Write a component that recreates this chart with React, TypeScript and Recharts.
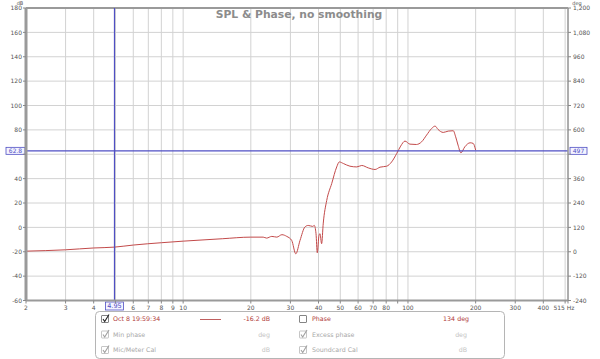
import React from 'react';
import { LineChart, Line, XAxis, YAxis, CartesianGrid, ReferenceLine } from 'recharts';

const freqHz = [2, 3, 4, 4.95, 6, 8, 10, 15, 20, 22.7, 23.5, 24.8, 26.1, 27.5, 28.9, 30.4, 31.7, 33.1, 34.8, 36.0, 37.7, 38.3, 39.0, 39.5, 40.2, 40.6, 41.3, 42.0, 43.5, 45.8, 48.2, 49.5, 51.6, 55.2, 59.2, 62.3, 66.6, 71.4, 75.1, 80.4, 84.6, 89.1, 92.8, 97.0, 102, 109, 115, 121, 127.5, 132, 136, 143.5, 151, 159, 163, 167, 172, 179, 189, 195, 200];
const splDb = [-19.5, -18.4, -16.9, -16.2, -14.5, -12.6, -11.3, -9.3, -8.0, -8.0, -8.8, -7.4, -8.0, -6.0, -7.4, -10.7, -21.7, -10.7, 0.3, 1.6, 0.8, 1.6, -5.2, -20.8, -6.6, -5.2, -13.4, 3.5, 22, 36, 49.6, 53.7, 52.4, 50.2, 49.6, 50.8, 48.8, 47.5, 49.4, 50.2, 53.7, 60.6, 66.7, 70.8, 68.3, 68.0, 70.2, 75.7, 81.2, 83.1, 80.4, 77.9, 79.0, 79.3, 74.3, 67.5, 61.2, 66.1, 69.4, 68.9, 63.4];

const xTicks = [2, 3, 4, 5, 6, 7, 8, 9, 10, 20, 30, 40, 50, 60, 70, 80, 90, 100, 200, 300, 400, 500, 515];
const hiddenXTickLabels = [5, 90, 500];
const leftTicks = [-60, -40, -20, 0, 20, 40, 60, 80, 100, 120, 140, 160, 180];
const hiddenLeftTickLabels = [60];
const rightTicks = [-240, -120, 0, 120, 240, 360, 480, 600, 720, 840, 960, 1080, 1200];
const hiddenRightTickLabels = [480];

const cursorFreq = 4.95;
const cursorLevel = 62.8;
const cursorPhase = '497';

const chartTitle = 'SPL & Phase, no smoothing';
const legendRows = [
  { left: 'Oct 8 19:59:34', leftVal: '-16.2 dB', right: 'Phase', rightVal: '134 deg', active: true },
  { left: 'Min phase', leftVal: 'deg', right: 'Excess phase', rightVal: 'deg', active: false },
  { left: 'Mic/Meter Cal', leftVal: 'dB', right: 'Soundcard Cal', rightVal: 'dB', active: false },
];

const data = freqHz.map((f, i) => ({ f, spl: splDb[i] }));

const FONT = 'DejaVu Sans';
const BLUE = '#4f4fc4';
const RED = '#b03a3a';

const XTick = (props: any) => {
  const { x, y, payload } = props;
  const v = payload.value;
  if (hiddenXTickLabels.includes(v)) return <g />;
  const label = v === 515 ? '515 Hz' : String(v);
  return (
    <text x={v === 515 ? x - 4 : x} y={y + 4.5} textAnchor="middle" fontSize={6} fill="#555" fontFamily={FONT}>
      {label}
    </text>
  );
};

const HCursorLabel = (props: any) => {
  const vb = props.viewBox || {};
  const x = vb.x ?? 0;
  const y = vb.y ?? 0;
  const w = vb.width ?? 0;
  return (
    <g>
      <rect x={x - 20} y={y - 3.5} width={19} height={7} fill="#f4f4ff" stroke={BLUE} strokeWidth={0.8} />
      <text x={x - 10.5} y={y + 2.2} textAnchor="middle" fontSize={6} fill={BLUE} fontFamily={FONT}>{String(cursorLevel)}</text>
      <rect x={x + w + 2} y={y - 3.5} width={17} height={7} fill="#f4f4ff" stroke={BLUE} strokeWidth={0.8} />
      <text x={x + w + 10.5} y={y + 2.2} textAnchor="middle" fontSize={6} fill={BLUE} fontFamily={FONT}>{cursorPhase}</text>
    </g>
  );
};

const VCursorLabel = (props: any) => {
  const vb = props.viewBox || {};
  const x = vb.x ?? 0;
  const y = (vb.y ?? 0) + (vb.height ?? 0);
  return (
    <g>
      <rect x={x - 9} y={y + 1.5} width={18} height={8} fill="#f4f4ff" stroke={BLUE} strokeWidth={0.8} />
      <text x={x} y={y + 7.8} textAnchor="middle" fontSize={6.5} fill={BLUE} fontFamily={FONT}>{String(cursorFreq)}</text>
    </g>
  );
};

const CheckBox = ({ x, y, checked, dim }: { x: number; y: number; checked: boolean; dim: boolean }) => (
  <g>
    <rect x={x} y={y} width={7} height={7} fill="#fff" stroke={dim ? '#b8b8b8' : '#666'} strokeWidth={0.8} rx={0.5} />
    {checked && (
      <path d={`M${x + 1.5},${y + 3.5} L${x + 3.2},${y + 6} L${x + 7.5},${y - 1}`} fill="none" stroke={dim ? '#a0a0a0' : '#222'} strokeWidth={1.1} />
    )}
  </g>
);

export default function App() {
  return (
    <div style={{ position: 'absolute', left: 0, top: 0, width: 600, height: 359, background: '#fff' }}>
      <LineChart width={600} height={359} data={data} margin={{ top: 8, right: 0, bottom: 0, left: 0 }}>
        <CartesianGrid stroke="#d2d2d2" strokeWidth={1} verticalValues={xTicks} />
        <XAxis
          dataKey="f"
          type="number"
          scale="log"
          domain={[2, 515]}
          allowDataOverflow
          ticks={xTicks}
          interval={0}
          height={58.5}
          tickSize={3}
          tickLine={{ stroke: '#888' }}
          axisLine={{ stroke: '#9a9a9a', strokeWidth: 2 }}
          tick={<XTick />}
        />
        <YAxis
          type="number"
          domain={[-60, 180]}
          allowDataOverflow
          ticks={leftTicks}
          interval={0}
          width={26}
          tickSize={3}
          tickMargin={1}
          tickLine={{ stroke: '#888' }}
          axisLine={{ stroke: '#9a9a9a', strokeWidth: 3 }}
          tick={{ fontSize: 6, fill: '#555', fontFamily: FONT }}
          tickFormatter={(v: number) => (hiddenLeftTickLabels.includes(v) ? '' : String(v))}
        />
        <YAxis
          yAxisId="right"
          orientation="right"
          type="number"
          domain={[-240, 1200]}
          allowDataOverflow
          ticks={rightTicks}
          interval={0}
          width={32}
          tickSize={3}
          tickMargin={2}
          tickLine={{ stroke: '#888' }}
          axisLine={{ stroke: '#9a9a9a', strokeWidth: 1.5 }}
          tick={{ fontSize: 6, fill: '#555', fontFamily: FONT }}
          tickFormatter={(v: number) => (hiddenRightTickLabels.includes(v) ? '' : v.toLocaleString('en-US'))}
        />
        <ReferenceLine y={180} stroke="#9a9a9a" strokeWidth={2} />
        <Line
          type="monotone"
          dataKey="spl"
          stroke="#c24a4a"
          strokeWidth={1}
          dot={false}
          isAnimationActive={false}
        />
        <ReferenceLine y={cursorLevel} stroke={BLUE} strokeWidth={1.2} label={<HCursorLabel />} />
        <ReferenceLine x={cursorFreq} stroke={BLUE} strokeWidth={1.2} label={<VCursorLabel />} />
      </LineChart>
      <svg width={600} height={359} style={{ position: 'absolute', left: 0, top: 0, pointerEvents: 'none' }}>
        <text x={299} y={18} textAnchor="middle" fontSize={10.75} fontWeight="bold" fill="#8c8c8c" fontFamily={FONT}>{chartTitle}</text>
        <text x={20} y={4.5} textAnchor="middle" fontSize={5} fill="#555" fontFamily={FONT}>dB</text>
        <text x={577} y={4.5} textAnchor="middle" fontSize={5} fill="#555" fontFamily={FONT}>deg</text>
        <rect x={95.5} y={311.5} width={409} height={47} rx={4} fill="#fff" stroke="#b5b5b5" strokeWidth={1} />
        {legendRows.map((r, i) => {
          const cy = 319 + i * 15.5;
          const labelColor = r.active ? RED : '#a8a8a8';
          const valColor = r.active ? RED : '#c4c4c4';
          return (
            <g key={i}>
              <CheckBox x={101.5} y={cy - 3.5} checked={true} dim={!r.active} />
              <text x={113} y={cy + 2.2} fontSize={6.3} fill={labelColor} fontFamily={FONT}>{r.left}</text>
              {r.active && <line x1={200} x2={221} y1={cy + 0.5} y2={cy + 0.5} stroke="#c06060" strokeWidth={1} />}
              <text x={270} y={cy + 2.2} textAnchor="end" fontSize={6.3} fill={valColor} fontFamily={FONT}>{r.leftVal}</text>
              <CheckBox x={299.5} y={cy - 3.5} checked={!r.active} dim={!r.active} />
              <text x={312} y={cy + 2.2} fontSize={6.3} fill={labelColor} fontFamily={FONT}>{r.right}</text>
              <text x={r.active ? 469 : 467} y={cy + 2.2} textAnchor="end" fontSize={6.3} fill={valColor} fontFamily={FONT}>{r.rightVal}</text>
            </g>
          );
        })}
      </svg>
    </div>
  );
}
